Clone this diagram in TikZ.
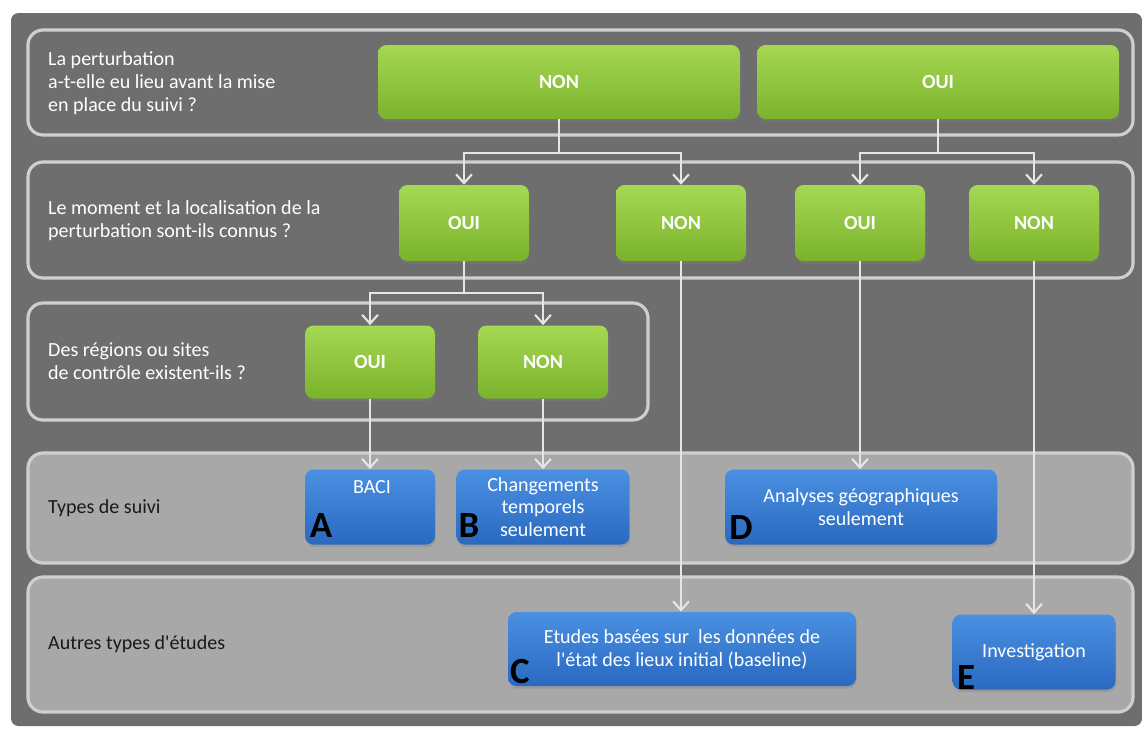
\documentclass[tikz,border=0pt]{standalone}
\usepackage{fontspec}
\setmainfont{Carlito}
\usetikzlibrary{arrows.meta,shadows}

\definecolor{panelgray}{HTML}{6E6E6E}
\definecolor{rowline}{HTML}{CFCFCF}
\definecolor{lightfill}{HTML}{A8A8A8}
\definecolor{greentop}{HTML}{A6D852}
\definecolor{greenbot}{HTML}{7AB22C}
\definecolor{bluetop}{HTML}{4A90E2}
\definecolor{bluebot}{HTML}{2A69C0}
\definecolor{linewhite}{HTML}{E6E6E6}

\tikzset{
  row/.style={rounded corners=0.3cm, draw=rowline, line width=1.8pt, fill=panelgray},
  lightrow/.style={row, fill=lightfill},
  question/.style={anchor=west, align=left, text=white, font=\fontsize{11.4}{13}\selectfont},
  rowtitle/.style={anchor=west, align=left, text=black!90, font=\fontsize{11.4}{13}\selectfont},
  greenbox/.style={rectangle, rounded corners=0.17cm, top color=greentop, bottom color=greenbot,
    text=white, font=\fontsize{11.4}{13}\selectfont\bfseries,
    drop shadow={shadow xshift=0.5pt, shadow yshift=-1.5pt, opacity=0.35}},
  bluebox/.style={rectangle, rounded corners=0.17cm, top color=bluetop, bottom color=bluebot,
    text=white, align=center, font=\fontsize{11.4}{13}\selectfont,
    drop shadow={shadow xshift=0.5pt, shadow yshift=-1.5pt, opacity=0.35}},
  bluetext/.style={text=white, align=center, font=\fontsize{11.4}{13}\selectfont},
  letter/.style={text=black, inner sep=0pt, font=\fontsize{21}{21}\selectfont\bfseries},
  conn/.style={draw=linewhite, line width=1.2pt},
  arr/.style={conn, -{Straight Barb[length=5pt,width=9pt]}}
}

\begin{document}
\begin{tikzpicture}[x=0.02cm, y=-0.02cm]
\fill[white] (0,0) rectangle (1142,728);
\fill[panelgray, rounded corners=0.15cm] (11,13) rectangle (1142,726);

% bands
\draw[row] (28,30) rectangle (1133,135);
\draw[row] (28,162) rectangle (1133,278);
\draw[row] (28,303) rectangle (648,420);
\draw[lightrow] (28,453) rectangle (1133,563);
\draw[lightrow] (28,577) rectangle (1133,712);

\node[question] (q1) at (42,83) {La perturbation\\a-t-elle eu lieu avant la mise\\en place du suivi ?};
\node[question] (q2) at (42,221) {Le moment et la localisation de la\\perturbation sont-ils connus ?};
\node[question] (q3) at (42,361) {Des régions ou sites\\de contrôle existent-ils ?};
\node[rowtitle] (t4) at (42,508) {Types de suivi};
\node[rowtitle] (t5) at (42,644) {Autres types d\textquotesingle études};

% answers
\node[greenbox, minimum width=7.24cm, minimum height=1.48cm] (non1) at (559,82) {NON};
\node[greenbox, minimum width=7.24cm, minimum height=1.48cm] (oui1) at (938,82) {OUI};

\node[greenbox, minimum width=2.6cm, minimum height=1.52cm] (oui2a) at (464,223) {OUI};
\node[greenbox, minimum width=2.6cm, minimum height=1.52cm] (non2a) at (681,223) {NON};
\node[greenbox, minimum width=2.6cm, minimum height=1.52cm] (oui2b) at (860,223) {OUI};
\node[greenbox, minimum width=2.6cm, minimum height=1.52cm] (non2b) at (1034,223) {NON};

\node[greenbox, minimum width=2.6cm, minimum height=1.46cm] (oui3) at (370,362) {OUI};
\node[greenbox, minimum width=2.6cm, minimum height=1.46cm] (non3) at (543,362) {NON};

% results
\node[bluebox, minimum width=2.6cm, minimum height=1.5cm] (boxA) at (370,507) {};
\node[bluetext] (txtA) at (372,487) {BACI};
\node[bluebox, minimum width=3.46cm, minimum height=1.5cm] (boxB) at (543,507) {Changements\\temporels\\seulement};
\node[bluebox, minimum width=5.44cm, minimum height=1.5cm] (boxD) at (861,507) {Analyses géographiques\\seulement};
\node[bluebox, minimum width=6.96cm, minimum height=1.48cm] (boxC) at (682,649) {Etudes basées sur~ les données de\\l\textquotesingle état des lieux initial (baseline)};
\node[bluebox, minimum width=3.26cm, minimum height=1.5cm] (boxE) at (1034,652) {Investigation};

\node[letter] (lA) at (321,526) {A};
\node[letter] (lB) at (469,526) {B};
\node[letter] (lC) at (520,672) {C};
\node[letter] (lD) at (741,528) {D};
\node[letter] (lE) at (966,678) {E};

% connectors
\coordinate (j1) at (559,153);
\coordinate (j2) at (938,153);
\coordinate (j3) at (464,293);

\draw[conn] (non1.south) -- (j1);
\draw[arr] (j1) -| (oui2a.north);
\draw[arr] (j1) -| (non2a.north);
\draw[conn] (oui1.south) -- (j2);
\draw[arr] (j2) -| (oui2b.north);
\draw[arr] (j2) -| (non2b.north);
\draw[conn] (oui2a.south) -- (j3);
\draw[arr] (j3) -| (oui3.north);
\draw[arr] (j3) -| (non3.north);

\draw[arr] (oui3.south) -- (oui3.south |- boxA.north);
\draw[arr] (non3.south) -- (non3.south |- boxB.north);
\draw[arr] (non2a.south) -- (non2a.south |- boxC.north);
\draw[arr] (oui2b.south) -- (oui2b.south |- boxD.north);
\draw[arr] (non2b.south) -- (non2b.south |- boxE.north);
\end{tikzpicture}
\end{document}
